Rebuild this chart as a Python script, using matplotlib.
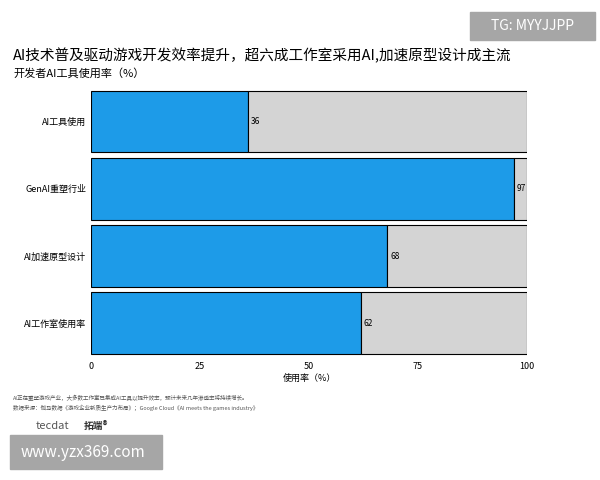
import matplotlib
matplotlib.use("Agg")
import matplotlib.pyplot as plt
from matplotlib.patches import Rectangle

plt.rcParams['font.family'] = ['Noto Sans CJK SC', 'DejaVu Sans']

categories = ["AI工具使用", "GenAI重塑行业", "AI加速原型设计", "AI工作室使用率"]
values = [36, 97, 68, 62]
ticks = [0, 25, 50, 75, 100]

fig = plt.figure(figsize=(6, 4.8), dpi=100)
ax = fig.add_axes([0.152, 0.256, 0.726, 0.561])
y = list(range(len(categories)))
rest = [100 - v for v in values]
ax.barh(y, values, height=0.92, color='#1d9be8', edgecolor='black', linewidth=0.8)
ax.barh(y, rest, left=values, height=0.92, color='#d4d4d4', edgecolor='black', linewidth=0.8)
for yi, v in zip(y, values):
    ax.text(v + 0.6, yi, str(v), va='center', ha='left', fontsize=6)
ax.set_yticks(y)
ax.set_yticklabels(categories, fontsize=6.5)
ax.set_xticks(ticks)
ax.set_xticklabels([str(t) for t in ticks], fontsize=6.5)
ax.set_xlim(0, 100)
ax.set_ylim(3.5, -0.5)
ax.tick_params(length=0)
for s in ax.spines.values():
    s.set_visible(False)
ax.set_xlabel("使用率（%）", fontsize=6.5, labelpad=2)

fig.text(0.022, 0.885, "AI技术普及驱动游戏开发效率提升，超六成工作室采用AI,加速原型设计成主流",
         fontsize=10.5, ha='left', va='center')
fig.text(0.022, 0.848, "开发者AI工具使用率（%）", fontsize=8, ha='left', va='center')
fig.text(0.022, 0.172, "AI正在重塑游戏产业，大多数工作室已集成AI工具以提升效率，预计未来几年渗透率将持续增长。",
         fontsize=4, ha='left', va='center', color='#555555')
fig.text(0.022, 0.150, "数据来源：伽马数据《游戏企业新质生产力布局》；Google Cloud《AI meets the games industry》",
         fontsize=4, ha='left', va='center', color='#555555')
fig.text(0.06, 0.113, "tecdat", fontsize=8, ha='left', va='center', color='#555555')
fig.text(0.14, 0.113, "拓端®", fontsize=7, ha='left', va='center', color='#333333', weight='bold')

fig.patches.append(Rectangle((0.017, 0.022), 0.253, 0.072, transform=fig.transFigure,
                             color='#a6a6a6', zorder=0))
fig.text(0.035, 0.058, "www.yzx369.com", fontsize=11, color='white', ha='left', va='center')
fig.patches.append(Rectangle((0.783, 0.917), 0.208, 0.058, transform=fig.transFigure,
                             color='#a6a6a6', zorder=0))
fig.text(0.887, 0.946, "TG: MYYJJPP", fontsize=10, color='white', ha='center', va='center')

fig.savefig("out.png", dpi=100, facecolor='white')
